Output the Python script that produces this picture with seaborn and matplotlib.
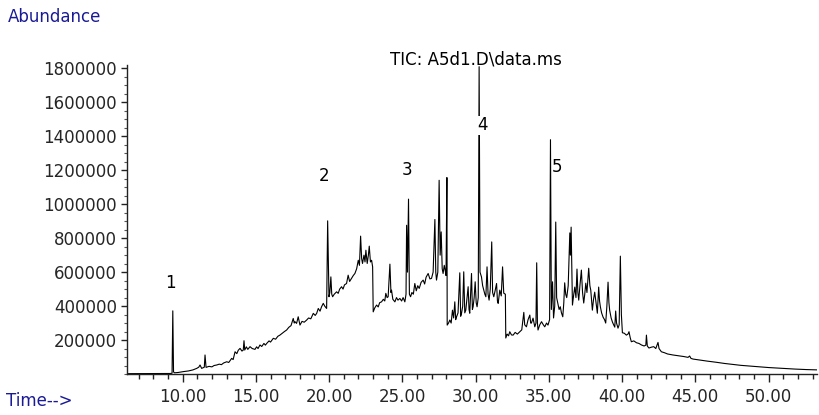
import matplotlib
matplotlib.use("Agg")
import matplotlib.pyplot as plt
import seaborn as sns
import pandas as pd
from matplotlib.ticker import MultipleLocator, FixedLocator, FuncFormatter

# ---- data ----
time_min = [
    6.20, 8.00, 9.20, 9.28, 9.33, 9.38, 9.45, 9.70, 10.05, 10.40,
    10.70, 10.96, 11.10, 11.19, 11.30, 11.48, 11.53, 11.60, 11.80, 12.00,
    12.15, 12.33, 12.50, 12.65, 12.80, 13.01, 13.15, 13.35, 13.45, 13.58,
    13.70, 13.80, 13.92, 14.05, 14.14, 14.19, 14.24, 14.35, 14.45, 14.60,
    14.75, 14.94, 15.05, 15.15, 15.28, 15.40, 15.55, 15.65, 15.74, 15.90,
    16.00, 16.19, 16.35, 16.50, 16.64, 16.80, 16.95, 17.10, 17.25, 17.40,
    17.55, 17.62, 17.67, 17.78, 17.89, 18.01, 18.15, 18.30, 18.47, 18.60,
    18.75, 18.92, 19.05, 19.15, 19.26, 19.38, 19.48, 19.60, 19.70, 19.83,
    19.90, 19.99, 20.05, 20.12, 20.18, 20.24, 20.35, 20.51, 20.62, 20.72,
    20.85, 20.95, 21.05, 21.19, 21.30, 21.40, 21.53, 21.65, 21.76, 21.88,
    21.99, 22.07, 22.15, 22.22, 22.28, 22.38, 22.45, 22.51, 22.60, 22.68,
    22.74, 22.82, 22.90, 22.97, 23.01, 23.12, 23.24, 23.35, 23.45, 23.58,
    23.70, 23.80, 23.87, 23.96, 24.03, 24.15, 24.22, 24.26, 24.35, 24.49,
    24.60, 24.70, 24.83, 24.95, 25.05, 25.17, 25.25, 25.29, 25.35, 25.42,
    25.48, 25.56, 25.65, 25.75, 25.85, 25.95, 26.05, 26.15, 26.28, 26.42,
    26.52, 26.62, 26.76, 26.88, 26.99, 27.10, 27.22, 27.28, 27.33, 27.42,
    27.51, 27.58, 27.65, 27.72, 27.78, 27.86, 27.92, 27.98, 28.04, 28.06,
    28.15, 28.24, 28.33, 28.42, 28.50, 28.58, 28.64, 28.70, 28.80, 28.92,
    28.98, 29.04, 29.12, 29.19, 29.26, 29.33, 29.49, 29.55, 29.60, 29.72,
    29.78, 29.83, 29.90, 29.97, 30.04, 30.10, 30.18, 30.24, 30.30, 30.40,
    30.48, 30.56, 30.63, 30.70, 30.78, 30.85, 30.92, 31.00, 31.10, 31.16,
    31.24, 31.33, 31.43, 31.49, 31.54, 31.65, 31.75, 31.84, 31.92, 32.03,
    32.06, 32.15, 32.25, 32.33, 32.45, 32.56, 32.70, 32.85, 33.02, 33.15,
    33.29, 33.35, 33.47, 33.58, 33.70, 33.76, 33.81, 33.92, 34.04, 34.12,
    34.17, 34.22, 34.26, 34.38, 34.50, 34.62, 34.72, 34.84, 34.94, 35.05,
    35.11, 35.17, 35.25, 35.32, 35.40, 35.47, 35.53, 35.61, 35.70, 35.78,
    35.86, 35.95, 36.02, 36.08, 36.15, 36.22, 36.32, 36.43, 36.47, 36.52,
    36.61, 36.70, 36.77, 36.85, 36.92, 36.98, 37.04, 37.12, 37.22, 37.30,
    37.38, 37.45, 37.52, 37.60, 37.72, 37.80, 37.86, 37.97, 38.05, 38.13,
    38.22, 38.31, 38.40, 38.46, 38.52, 38.60, 38.70, 38.80, 38.88, 38.96,
    39.04, 39.10, 39.15, 39.25, 39.34, 39.42, 39.50, 39.56, 39.62, 39.72,
    39.80, 39.88, 39.95, 40.02, 40.15, 40.29, 40.40, 40.47, 40.55, 40.63,
    40.80, 40.98, 41.15, 41.32, 41.50, 41.62, 41.66, 41.72, 41.83, 42.00,
    42.16, 42.30, 42.40, 42.45, 42.52, 42.68, 42.90, 43.10, 43.47, 43.80,
    44.20, 44.50, 44.61, 44.70, 44.84, 45.30, 45.80, 46.43, 47.00, 47.60,
    48.10, 48.70, 49.30, 50.00, 50.98, 51.80, 52.60, 53.41,
]
abundance = [
    2000, 2500, 3000, 5000, 372000, 12000, 7000, 9000, 14000, 18000,
    24000, 33000, 40000, 53000, 33000, 40000, 112000, 39000, 45000, 42000,
    50000, 53000, 58000, 55000, 65000, 72000, 68000, 92000, 85000, 131000,
    120000, 140000, 151000, 135000, 141000, 196000, 141000, 160000, 145000, 161000,
    150000, 145000, 160000, 150000, 171000, 162000, 180000, 170000, 180000, 195000,
    188000, 210000, 205000, 222000, 229000, 240000, 250000, 259000, 275000, 285000,
    327000, 300000, 308000, 298000, 337000, 288000, 310000, 305000, 318000, 330000,
    325000, 357000, 345000, 357000, 386000, 370000, 395000, 416000, 400000, 386000,
    902000, 455000, 480000, 572000, 470000, 455000, 470000, 484000, 475000, 500000,
    514000, 500000, 525000, 533000, 582000, 545000, 563000, 580000, 592000, 620000,
    670000, 640000, 812000, 680000, 651000, 700000, 660000, 729000, 651000, 700000,
    753000, 660000, 670000, 631000, 366000, 390000, 406000, 395000, 420000, 425000,
    440000, 430000, 475000, 450000, 455000, 647000, 480000, 494000, 440000, 425000,
    450000, 435000, 445000, 430000, 450000, 425000, 470000, 876000, 600000, 1030000,
    470000, 455000, 480000, 470000, 533000, 490000, 520000, 504000, 540000, 553000,
    530000, 570000, 592000, 560000, 563000, 600000, 910000, 600000, 553000, 600000,
    1141000, 700000, 837000, 620000, 592000, 640000, 612000, 580000, 1157000, 288000,
    300000, 318000, 300000, 376000, 330000, 425000, 320000, 337000, 360000, 596000,
    340000, 358000, 400000, 602000, 360000, 376000, 514000, 380000, 358000, 592000,
    380000, 396000, 450000, 543000, 420000, 396000, 450000, 1810000, 600000, 572000,
    520000, 494000, 470000, 455000, 631000, 470000, 435000, 500000, 778000, 480000,
    455000, 490000, 533000, 430000, 416000, 494000, 460000, 631000, 476000, 470000,
    212000, 235000, 225000, 249000, 230000, 229000, 245000, 235000, 249000, 260000,
    363000, 290000, 278000, 320000, 347000, 300000, 300000, 329000, 278000, 300000,
    655000, 300000, 259000, 290000, 308000, 290000, 278000, 300000, 288000, 320000,
    1380000, 380000, 543000, 330000, 400000, 895000, 450000, 418000, 380000, 396000,
    360000, 337000, 420000, 537000, 470000, 450000, 520000, 831000, 700000, 865000,
    406000, 470000, 512000, 450000, 618000, 480000, 435000, 520000, 612000, 480000,
    418000, 470000, 535000, 480000, 623000, 520000, 494000, 376000, 440000, 482000,
    420000, 358000, 512000, 430000, 394000, 360000, 335000, 320000, 300000, 400000,
    541000, 420000, 376000, 330000, 306000, 290000, 276000, 371000, 300000, 270000,
    290000, 694000, 350000, 243000, 240000, 229000, 235000, 249000, 215000, 190000,
    195000, 184000, 180000, 171000, 165000, 170000, 229000, 165000, 153000, 158000,
    161000, 150000, 175000, 186000, 150000, 131000, 125000, 118000, 112000, 108000,
    103000, 98000, 106000, 92000, 88000, 82000, 76000, 69000, 62000, 56000,
    51000, 47000, 43000, 38000, 33000, 29000, 26000, 24000,
]

peak_ids = ["1", "2", "3", "4", "5"]
peak_label_time = [9.14, 19.65, 25.31, 30.49, 35.54]
peak_label_abund = [535000, 1165000, 1200000, 1465000, 1218000]

x_major_ticks = [10, 15, 20, 25, 30, 35, 40, 45, 50]
y_major_ticks = [200000, 400000, 600000, 800000, 1000000, 1200000, 1400000, 1600000, 1800000]

title_text = "TIC: A5d1.D\\data.ms"
y_title = "Abundance"
x_title = "Time-->"

# ---- plotting ----
df = pd.DataFrame({"time": time_min, "abundance": abundance})

sns.set_style("ticks")
plt.rcParams["font.family"] = ["DejaVu Sans"]

fig = plt.figure(figsize=(8.19, 4.15), dpi=100)
fig.patch.set_facecolor("white")
ax = fig.add_axes([0.155, 0.0988, 0.8425, 0.7446])

sns.lineplot(data=df, x="time", y="abundance", sort=False, estimator=None,
             color="black", linewidth=0.8, ax=ax)

ax.set_xlim(6.2, 53.3)
ax.set_ylim(0, 1.82e6)
ax.set_xlabel("")
ax.set_ylabel("")

ax.xaxis.set_major_locator(FixedLocator(x_major_ticks))
ax.xaxis.set_minor_locator(MultipleLocator(1))
ax.xaxis.set_major_formatter(FuncFormatter(lambda v, p: f"{v:.2f}"))
ax.yaxis.set_major_locator(FixedLocator(y_major_ticks))
ax.yaxis.set_minor_locator(MultipleLocator(50000))
ax.yaxis.set_major_formatter(FuncFormatter(lambda v, p: f"{int(round(v))}"))

ax.tick_params(axis="x", which="major", length=6, width=1, direction="out",
               labelsize=12, pad=4, color="#222222")
ax.tick_params(axis="x", which="minor", length=3.5, width=1, direction="out", color="#222222")
ax.tick_params(axis="y", which="major", length=4, width=1, direction="out",
               labelsize=12, pad=3, color="#222222")
ax.tick_params(axis="y", which="minor", length=2, width=0.8, direction="out", color="#555555")

for s in ["top", "right"]:
    ax.spines[s].set_visible(False)
for s in ["left", "bottom"]:
    ax.spines[s].set_color("#222222")
    ax.spines[s].set_linewidth(1.0)

for lbl, t, a in zip(peak_ids, peak_label_time, peak_label_abund):
    kw = {}
    if lbl == "4":
        kw["bbox"] = dict(facecolor="white", edgecolor="none", pad=0.5)
    ax.text(t, a, lbl, ha="center", va="center", fontsize=12, color="black", zorder=5, **kw)

fig.text(476 / 819, 1 - 59 / 415, title_text, ha="center", va="center",
         fontsize=12, color="black")
fig.text(8 / 819, 1 - 17 / 415, y_title, ha="left", va="center",
         fontsize=12, color="#1a1a96")
fig.text(6 / 819, 1 - 401 / 415, x_title, ha="left", va="center",
         fontsize=12, color="#1a1a96")

fig.savefig("out.png", dpi=100, facecolor="white")
